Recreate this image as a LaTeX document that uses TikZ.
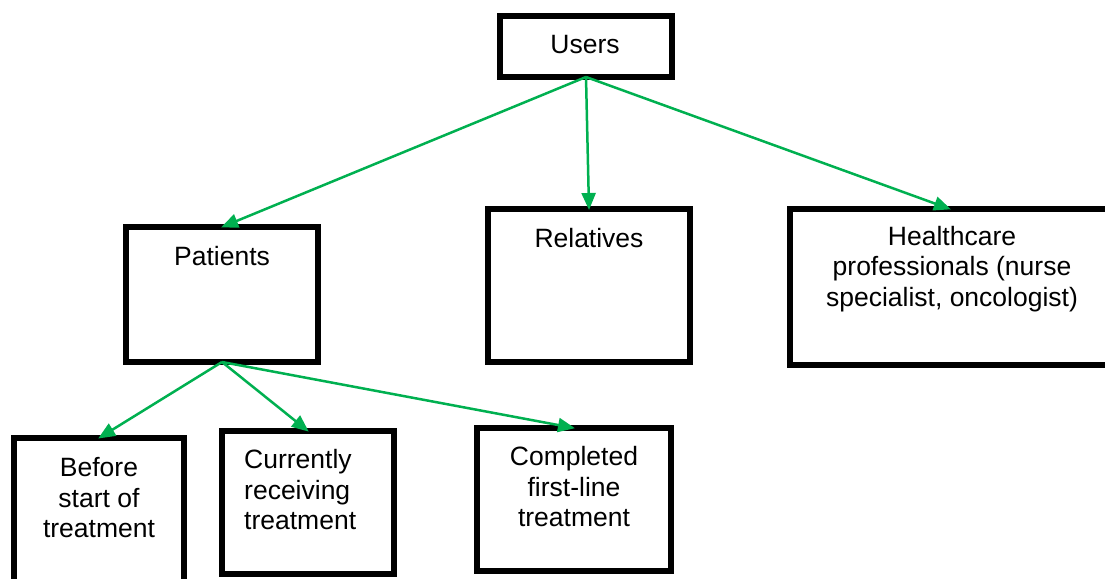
\documentclass[tikz,border=0pt]{standalone}
\usepackage{fontspec}
\setmainfont{Liberation Sans}
\usetikzlibrary{arrows.meta}
\definecolor{linkgreen}{RGB}{0,176,80}
\begin{document}
\begin{tikzpicture}[x=1pt,y=-1pt,
  box/.style={draw=black, line width=6pt, fill=white, inner sep=0pt, outer sep=0pt,
              minimum width=#1},
  lbl/.style={font=\fontsize{26.5}{30.5}\selectfont, align=center, inner sep=0pt},
  link/.style={draw=linkgreen, line width=2.5pt,
               -{Triangle[length=17pt,width=14pt]}, shorten >=-1pt}]
\useasboundingbox (0,0) rectangle (1105,578);
\begin{scope}
\clip (0,0) rectangle (1105,578);
% boxes of the user tree
\node[box=172pt, minimum height=61pt]  (users)    at (586,46.5)  {};
\node[box=192pt, minimum height=135pt] (patients) at (222,294.5) {};
\node[box=202pt, minimum height=153pt] (relatives) at (589,285.5) {};
\node[box=320pt, minimum height=156pt] (hcp)      at (950,287)   {};
\node[box=170pt, minimum height=152pt] (before)   at (99,514)    {};
\node[box=172pt, minimum height=143pt] (current)  at (308,502.5) {};
\node[box=194pt, minimum height=143pt] (completed) at (574,499.5) {};
\end{scope}
% labels
\node[lbl] (tusers) at (585,45) {Users};
\node[lbl] (tpatients) at (222,256) {Patients};
\node[lbl] (trelatives) at (589,238) {Relatives};
\node[lbl] (thcp) at (952,269) {Healthcare\\professionals (nurse\\specialist, oncologist)};
\node[lbl] (tbefore) at (99,498) {Before\\start of\\treatment};
\node[lbl, align=left, anchor=west] (tcurrent) at (244,490) {Currently\\receiving\\treatment};
\node[lbl] (tcompleted) at (574,487) {Completed\\first-line\\treatment};
% connectors
\draw[link] (users.south) -- (patients.north);
\draw[link] (users.south) -- (relatives.north);
\draw[link] (users.south) -- (hcp.north);
\draw[link] (patients.south) -- (before.north);
\draw[link] (patients.south) -- (current.north);
\draw[link] (patients.south) -- (completed.north);
\end{tikzpicture}
\end{document}
